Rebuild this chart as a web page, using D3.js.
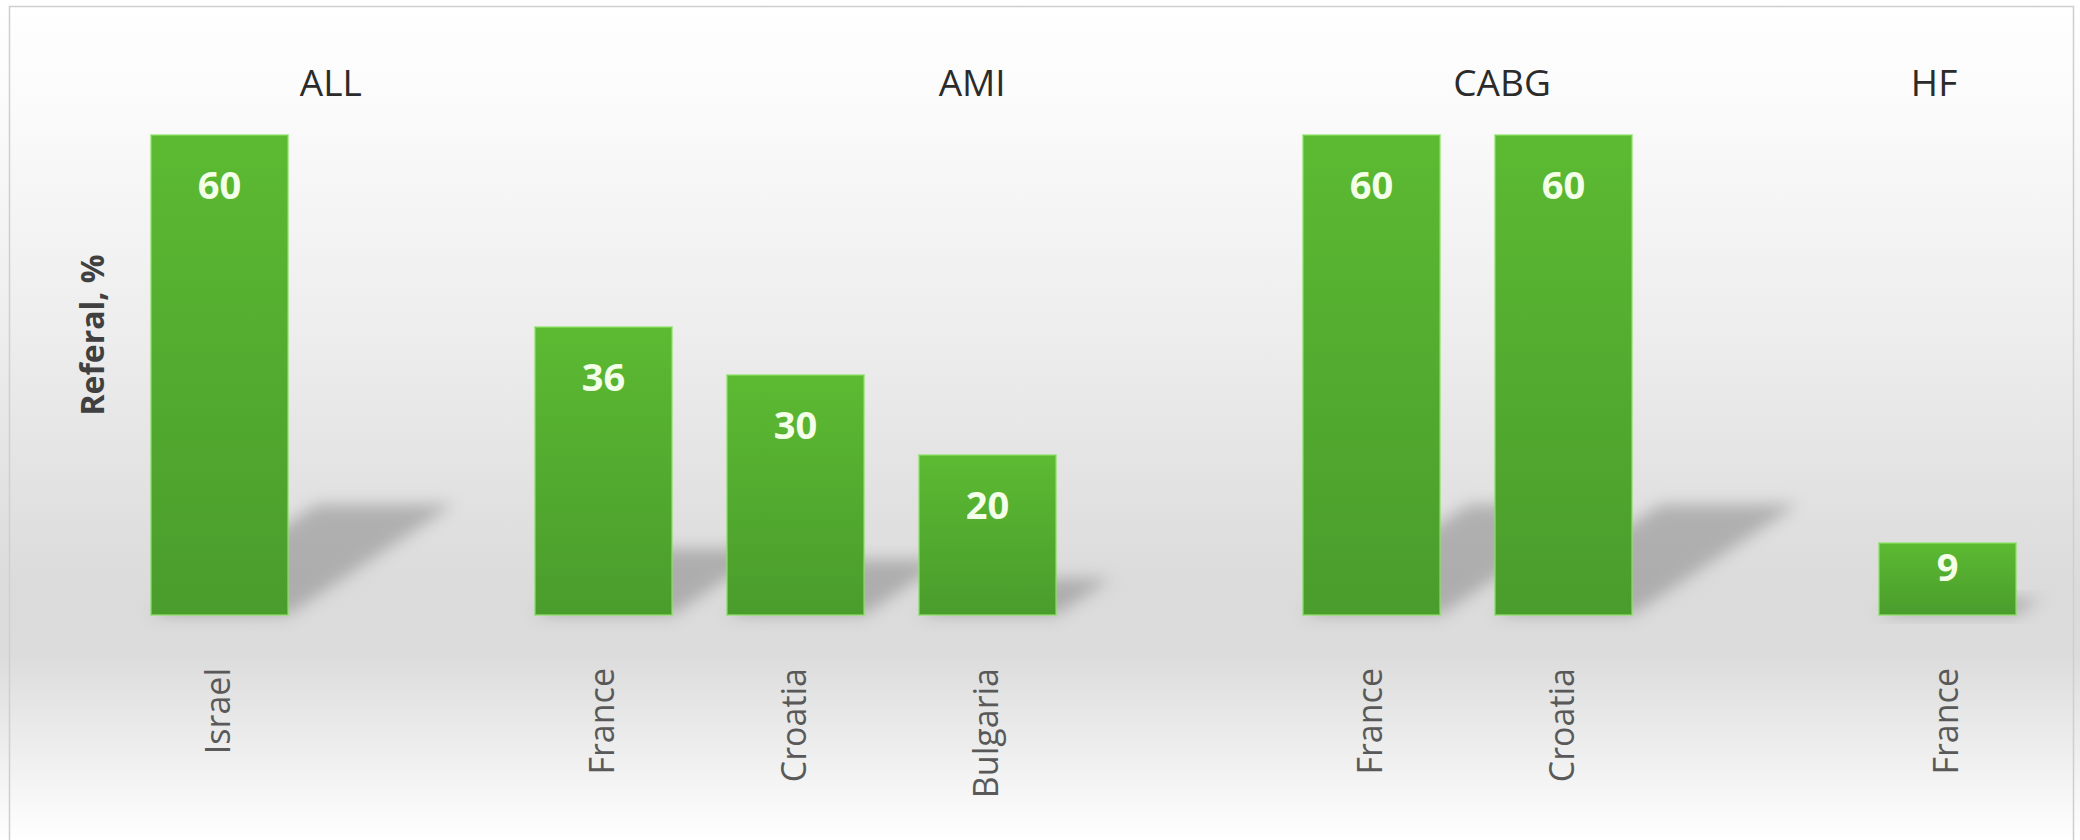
<!DOCTYPE html>
<html>
<head>
<meta charset="utf-8">
<script src="https://cdn.jsdelivr.net/npm/d3@7"></script>
<style>
  body { margin: 0; background: #ffffff; }
  text { font-family: "Open Sans", "Noto Sans", sans-serif; }
</style>
</head>
<body>
<div id="plot"></div>
<script>
// referral chart: one bar per country, grouped by condition

const FRAME_WIDTH = 2080;
const FRAME_HEIGHT = 840;

// data (one slot per category, blank slots separate the groups)
const slots = ["s0", "s1", "s2", "s3", "s4", "s5", "s6", "s7", "s8", "s9"];
const countries = ["Israel", "", "France", "Croatia", "Bulgaria", "", "France", "Croatia", "", "France"];
const values = [60, null, 36, 30, 20, null, 60, 60, null, 9];
const groups = ["ALL", "AMI", "CABG", "HF"];
const yTitle = "Referal, %";

// where each group title sits, in slot units
const GROUP_TITLE_SLOT = [0.58, 3.92, 6.68, 8.93];

const FRAME1 = d3.select("#plot")
  .append("svg")
    .attr("width", FRAME_WIDTH)
    .attr("height", FRAME_HEIGHT);

const defs = FRAME1.append("defs");

// grey backdrop, darkest around the bar baseline
const bg = defs.append("linearGradient")
  .attr("id", "bg").attr("x1", 0).attr("y1", 0).attr("x2", 0).attr("y2", 1);
[[0, "#ffffff"], [0.12, "#fbfbfb"], [0.4, "#ededed"], [0.7, "#dbdbdb"], [0.78, "#dcdcdc"], [0.88, "#ececec"], [1, "#ffffff"]]
  .forEach(s => bg.append("stop").attr("offset", s[0]).attr("stop-color", s[1]));

const barGrad = defs.append("linearGradient")
  .attr("id", "bar").attr("x1", 0).attr("y1", 0).attr("x2", 0).attr("y2", 1);
barGrad.append("stop").attr("offset", 0).attr("stop-color", "#5cba32");
barGrad.append("stop").attr("offset", 1).attr("stop-color", "#4a9c2c");

defs.append("filter").attr("id", "blur")
  .attr("x", "-50%").attr("y", "-50%").attr("width", "200%").attr("height", "200%")
  .append("feGaussianBlur").attr("stdDeviation", 8);

FRAME1.append("rect")
  .attr("x", 0).attr("y", 0)
  .attr("width", FRAME_WIDTH).attr("height", FRAME_HEIGHT)
  .attr("fill", "url(#bg)");

// frame border
FRAME1.append("rect")
  .attr("x", 9.5).attr("y", 6.5)
  .attr("width", 2064).attr("height", 850)
  .attr("fill", "none")
  .attr("stroke", "#cfcfcf")
  .attr("stroke-width", 1.5);

// scales
const X = d3.scaleBand()
  .domain(slots)
  .range([123.5, 2043.5])
  .paddingInner(0.286)
  .paddingOuter(0.143);

const Y = d3.scaleLinear()
  .domain([0, 60])
  .range([615, 135]);

const slotPos = d3.scaleLinear()
  .domain([0, slots.length - 1])
  .range([X(slots[0]) + X.bandwidth() / 2, X(slots[slots.length - 1]) + X.bandwidth() / 2]);

const rows = slots.map((s, i) => ({ slot: s, country: countries[i], value: values[i] }));
const filled = rows.filter(d => d.value != null);

// floor shadows behind bars
FRAME1.append("g").selectAll("polygon")
  .data(filled)
  .enter().append("polygon")
    .attr("points", d => {
      const x0 = X(d.slot), w = X.bandwidth();
      const base = Y(0), h = Y(0) - Y(d.value);
      const dy = h * 0.23, dx = dy * 1.5;
      return [[x0, base], [x0 + w, base], [x0 + w + dx, base - dy], [x0 + dx, base - dy]].join(" ");
    })
    .attr("fill", "#808080")
    .attr("opacity", 0.5)
    .attr("filter", "url(#blur)");

// bars
FRAME1.append("g").selectAll("rect")
  .data(filled)
  .enter().append("rect")
    .attr("x", d => X(d.slot))
    .attr("y", d => Y(d.value))
    .attr("width", X.bandwidth())
    .attr("height", d => Y(0) - Y(d.value))
    .attr("fill", "url(#bar)")
    .attr("stroke", "#8ee266")
    .attr("stroke-opacity", 0.6)
    .attr("stroke-width", 2);

// value labels inside the bar top
FRAME1.append("g").selectAll("text")
  .data(filled)
  .enter().append("text")
    .attr("x", d => X(d.slot) + X.bandwidth() / 2)
    .attr("y", d => {
      const h = Y(0) - Y(d.value);
      return Y(d.value) + (h < 120 ? 11 : 37) + 27;
    })
    .attr("text-anchor", "middle")
    .attr("font-size", 38)
    .attr("font-weight", "bold")
    .attr("fill", "#f3ffe8")
    .text(d => d.value);

// country labels, rotated
FRAME1.append("g").selectAll("text")
  .data(filled)
  .enter().append("text")
    .attr("transform", d => "translate(" + (X(d.slot) + X.bandwidth() / 2) + ",668) rotate(-90)")
    .attr("text-anchor", "end")
    .attr("dy", "0.31em")
    .attr("font-size", 34)
    .attr("fill", "#595959")
    .text(d => d.country);

// group titles
FRAME1.append("g").selectAll("text")
  .data(groups)
  .enter().append("text")
    .attr("x", (d, i) => slotPos(GROUP_TITLE_SLOT[i]))
    .attr("y", 96)
    .attr("text-anchor", "middle")
    .attr("font-size", 37)
    .attr("fill", "#2b2b2b")
    .text(d => d);

// y-axis title
FRAME1.append("text")
  .attr("transform", "translate(93,335) rotate(-90)")
  .attr("text-anchor", "middle")
  .attr("dy", "0.35em")
  .attr("font-size", 32)
  .attr("font-weight", "bold")
  .attr("fill", "#404040")
  .text(yTitle);
</script>
</body>
</html>
